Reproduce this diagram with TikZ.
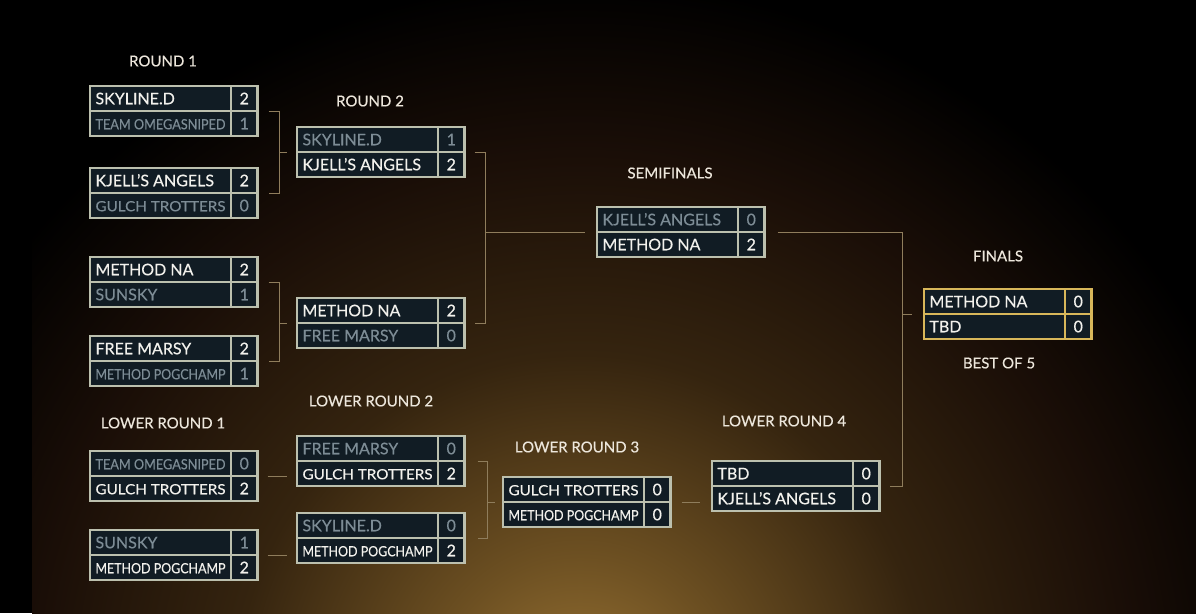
\documentclass[tikz,border=0pt]{standalone}
\usepackage{graphicx}
\usepackage{fontspec}
\setmainfont{Lato}[FakeBold=0.35]
\usetikzlibrary{calc}

\definecolor{cellfill}{HTML}{111C24}
\definecolor{framecol}{HTML}{BCC0AE}
\definecolor{goldcol}{HTML}{D8B75A}
\definecolor{wincol}{HTML}{F2F1EC}
\definecolor{losecol}{HTML}{7D8C95}
\definecolor{linkcol}{HTML}{8F7D5C}
\definecolor{titlecol}{HTML}{EDE7DC}
\definecolor{glowA}{HTML}{9A7434}
\definecolor{glowB}{HTML}{6D5022}
\definecolor{glowC}{HTML}{35240F}
\definecolor{glowD}{HTML}{1A0E07}
\pgfdeclareradialshading{glow}{\pgfpoint{0bp}{0bp}}{color(0bp)=(glowA); color(5bp)=(glowB); color(12bp)=(glowC); color(19bp)=(glowD); color(25bp)=(black); color(50bp)=(black)}

\tikzset{
	cell/.style={draw=framecol, fill=cellfill, line width=2.3pt, minimum height=25pt, inner sep=0pt, outer sep=0pt,
		text height=11.5pt, text depth=0pt, font=\fontsize{16}{16}\selectfont},
	namecell/.style={cell, minimum width=141pt},
	scorecell/.style={cell, minimum width=26.5pt},
	win/.style={text=wincol},
	lose/.style={text=losecol},
	final/.style={draw=goldcol},
	link/.style={draw=linkcol, line width=1pt},
	title/.style={text=titlecol, font=\fontsize{15}{15}\selectfont}
}

\newsavebox{\namebox}
\newcommand{\fitname}[1]{\sbox{\namebox}{#1}%
	\ifdim\wd\namebox>130pt\resizebox{130pt}{0.88\height}{\usebox{\namebox}}\else\usebox{\namebox}\fi}

% name, x, y, team 1, score 1, style 1, team 2, score 2, style 2
\newcommand{\duel}[9]{%
	\node[namecell,#6,anchor=north west] (#1-t1) at (#2,#3) {\makebox[130pt][l]{\fitname{#4}}};
	\node[scorecell,#6,anchor=west] (#1-s1) at (#1-t1.east) {#5};
	\node[namecell,#9,anchor=north west] (#1-t2) at (#1-t1.south west) {\makebox[130pt][l]{\fitname{#7}}};
	\node[scorecell,#9,anchor=west] (#1-s2) at (#1-t2.east) {#8};
}

\begin{document}
\begin{tikzpicture}[x=1pt,y=-1pt]
	\useasboundingbox (0,0) rectangle (1196,613);
	\fill[black] (0,0) rectangle (1196,613);
	\begin{scope}
		\clip (32,0) rectangle (1196,613);
		\shade[shading=glow] (580,700) circle (720pt);
	\end{scope}

	\node[title] (h-r1) at (163,61) {ROUND 1};
	\node[title] (h-r2) at (370,101) {ROUND 2};
	\node[title] (h-sf) at (670,173) {SEMIFINALS};
	\node[title] (h-fin) at (998,256) {FINALS};
	\node[title] (h-bo) at (999,363) {BEST OF 5};
	\node[title] (h-lr1) at (163,423) {LOWER ROUND 1};
	\node[title] (h-lr2) at (371,401) {LOWER ROUND 2};
	\node[title] (h-lr3) at (577,447) {LOWER ROUND 3};
	\node[title] (h-lr4) at (784,421) {LOWER ROUND 4};

	\duel{r1a}{90}{86}{SKYLINE.D}{2}{win}{TEAM OMEGASNIPED}{1}{lose}
	\duel{r1b}{90}{168}{KJELL'S ANGELS}{2}{win}{GULCH TROTTERS}{0}{lose}
	\duel{r1c}{90}{257}{METHOD NA}{2}{win}{SUNSKY}{1}{lose}
	\duel{r1d}{90}{336}{FREE MARSY}{2}{win}{METHOD POGCHAMP}{1}{lose}
	\duel{r2a}{297}{127}{SKYLINE.D}{1}{lose}{KJELL'S ANGELS}{2}{win}
	\duel{r2b}{297}{298}{METHOD NA}{2}{win}{FREE MARSY}{0}{lose}
	\duel{sf}{597}{207}{KJELL'S ANGELS}{0}{lose}{METHOD NA}{2}{win}
	\duel{fin}{924}{289}{METHOD NA}{0}{win,final}{TBD}{0}{win,final}
	\duel{lr1a}{90}{451}{TEAM OMEGASNIPED}{0}{lose}{GULCH TROTTERS}{2}{win}
	\duel{lr1b}{90}{530}{SUNSKY}{1}{lose}{METHOD POGCHAMP}{2}{win}
	\duel{lr2a}{297}{436}{FREE MARSY}{0}{lose}{GULCH TROTTERS}{2}{win}
	\duel{lr2b}{297}{513}{SKYLINE.D}{0}{lose}{METHOD POGCHAMP}{2}{win}
	\duel{lr3}{503}{477}{GULCH TROTTERS}{0}{win}{METHOD POGCHAMP}{0}{win}
	\duel{lr4}{712}{461}{TBD}{0}{win}{KJELL'S ANGELS}{0}{win}

	\draw[link] ([xshift=11pt]r1a-s1.south east) -| ([xshift=22pt]r1b-s1.south east) -- ([xshift=11pt]r1b-s1.south east);
	\draw[link] ([xshift=-17pt]r2a-t1.south west) -- ([xshift=-10pt]r2a-t1.south west);
	\draw[link] ([xshift=11pt]r1c-s1.south east) -| ([xshift=22pt]r1d-s1.south east) -- ([xshift=11pt]r1d-s1.south east);
	\draw[link] ([xshift=-17pt]r2b-t1.south west) -- ([xshift=-10pt]r2b-t1.south west);
	\draw[link] ([xshift=10pt]r2a-s1.south east) -| ([xshift=21pt]r2b-s1.south east) -- ([xshift=10pt]r2b-s1.south east);
	\draw[link] ([xshift=-112pt]sf-t1.south west) -- ([xshift=-12pt]sf-t1.south west);
	\draw[link] ([xshift=13pt]sf-s1.south east) -| ([xshift=22.5pt]lr4-s1.south east) -- ([xshift=10pt]lr4-s1.south east);
	\draw[link] ([xshift=-22pt]fin-t1.south west) -- ([xshift=-12pt]fin-t1.south west);
	\draw[link] ([xshift=10pt]lr1a-s1.south east) -- ([xshift=29pt]lr1a-s1.south east);
	\draw[link] ([xshift=10pt]lr1b-s1.south east) -- ([xshift=29pt]lr1b-s1.south east);
	\draw[link] ([xshift=13pt]lr2a-s1.south east) -| ([xshift=23pt]lr2b-s1.south east) -- ([xshift=13pt]lr2b-s1.south east);
	\draw[link] ([xshift=-16pt]lr3-t1.south west) -- ([xshift=-8pt]lr3-t1.south west);
	\draw[link] ([xshift=11pt]lr3-s1.south east) -- ([xshift=29pt]lr3-s1.south east);
\end{tikzpicture}
\end{document}
